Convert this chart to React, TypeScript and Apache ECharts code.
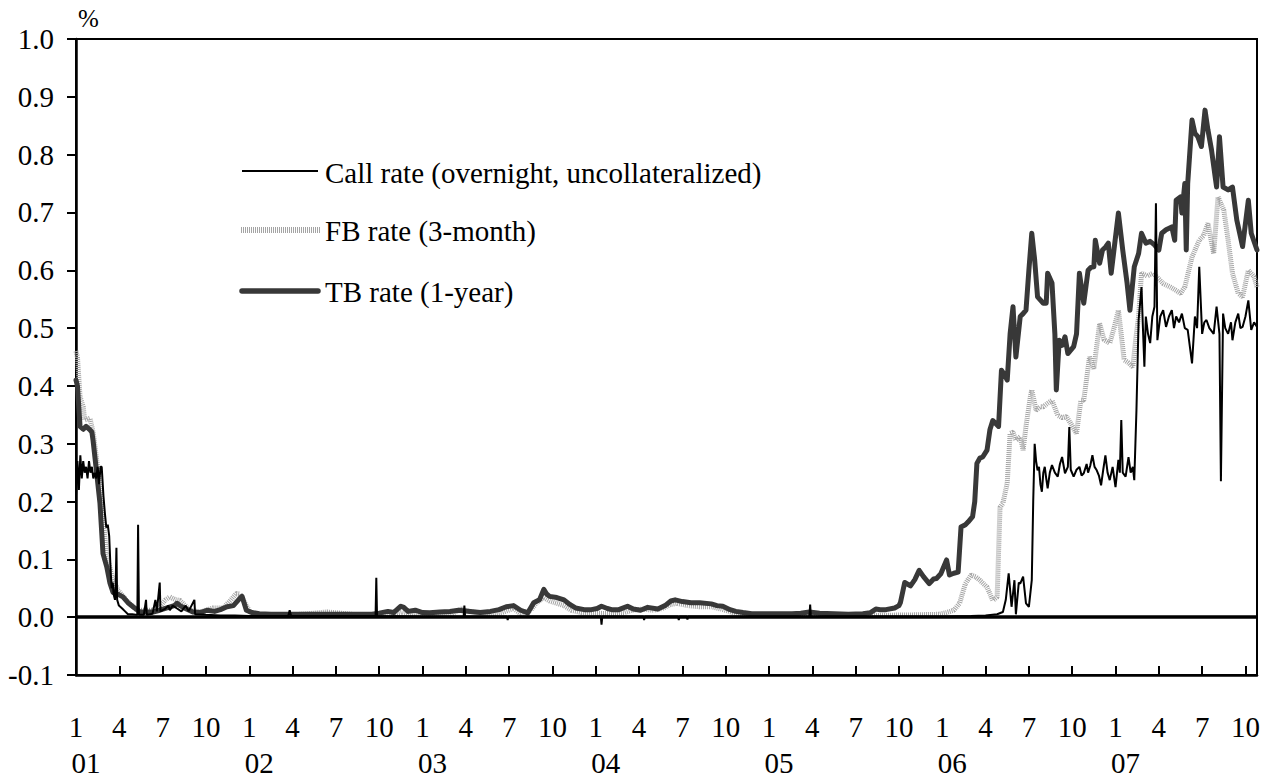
import React, { useEffect, useRef } from "react";
import * as echarts from "echarts";

// x = months since January 2001 (0 = Jan 2001), y = percent
const monthTickLabels: Record<number, string> = { 0: "1", 3: "4", 6: "7", 9: "10" };
const yearLabels = ["01", "02", "03", "04", "05", "06", "07"];

const seriesNames = [
  "Call rate (overnight, uncollateralized)",
  "FB rate (3-month)",
  "TB rate (1-year)",
];

const callRate: [number, number][] = [
  [0.0, 0.21], [0.1, 0.27], [0.2, 0.22], [0.3, 0.28], [0.4, 0.24], [0.5, 0.27], [0.6, 0.25],
  [0.7, 0.26], [0.8, 0.24], [0.9, 0.27], [1.0, 0.25], [1.1, 0.26], [1.2, 0.24], [1.3, 0.25],
  [1.4, 0.24], [1.5, 0.26], [1.6, 0.23], [1.7, 0.26], [1.78, 0.26], [1.9, 0.21], [2.0, 0.18],
  [2.1, 0.155], [2.2, 0.16], [2.3, 0.14], [2.4, 0.08], [2.47, 0.05], [2.55, 0.06], [2.6, 0.04],
  [2.7, 0.03], [2.75, 0.06], [2.8, 0.12], [2.85, 0.03], [2.97, 0.02], [3.2, 0.015], [3.4, 0.01],
  [3.6, 0.005], [3.9, 0.005], [4.25, 0.004], [4.3, 0.16], [4.36, 0.004], [4.7, 0.004],
  [4.85, 0.03], [4.9, 0.004], [5.3, 0.006], [5.5, 0.03], [5.6, 0.01], [5.8, 0.06], [5.85, 0.01],
  [6.2, 0.015], [6.4, 0.02], [6.5, 0.012], [6.7, 0.02], [7.0, 0.015], [7.3, 0.01], [7.6, 0.02],
  [7.8, 0.01], [8.2, 0.03], [8.25, 0.005], [9.0, 0.004], [10.0, 0.003], [11.0, 0.003],
  [12.0, 0.002], [13.0, 0.002], [14.7, 0.002], [14.8, 0.012], [14.9, 0.002], [18.0, 0.002],
  [20.75, 0.002], [20.8, 0.068], [20.85, 0.002], [24.0, 0.001], [26.85, 0.001], [26.9, 0.02],
  [26.95, 0.001], [29.85, 0.001], [29.9, -0.005], [29.95, 0.001], [33.0, 0.001], [36.35, 0.001],
  [36.4, -0.013], [36.45, 0.001], [39.3, 0.001], [39.35, -0.005], [39.4, 0.001], [41.7, 0.001],
  [41.75, -0.005], [41.8, 0.001], [42.3, 0.001], [42.35, -0.004], [42.4, 0.001], [46.0, 0.001],
  [50.8, 0.001], [50.85, 0.022], [50.9, 0.001], [56.0, 0.001], [60.0, 0.001], [62.0, 0.002],
  [63.0, 0.003], [63.8, 0.005], [64.2, 0.009], [64.4, 0.03], [64.6, 0.076], [64.8, 0.018],
  [65.0, 0.064], [65.1, 0.005], [65.3, 0.06], [65.4, 0.058], [65.6, 0.07], [65.8, 0.024],
  [66.0, 0.018], [66.2, 0.064], [66.3, 0.2], [66.4, 0.3], [66.5, 0.27], [66.6, 0.254],
  [66.7, 0.26], [66.8, 0.23], [66.9, 0.217], [67.0, 0.25], [67.1, 0.26], [67.2, 0.24],
  [67.3, 0.223], [67.45, 0.25], [67.6, 0.263], [67.8, 0.25], [68.0, 0.243], [68.15, 0.265],
  [68.3, 0.277], [68.5, 0.249], [68.7, 0.26], [68.8, 0.329], [68.9, 0.255], [69.1, 0.243],
  [69.3, 0.255], [69.5, 0.26], [69.65, 0.245], [69.8, 0.249], [70.0, 0.265], [70.1, 0.25],
  [70.25, 0.262], [70.4, 0.28], [70.55, 0.26], [70.7, 0.254], [70.85, 0.245], [71.0, 0.228],
  [71.15, 0.255], [71.3, 0.28], [71.45, 0.25], [71.6, 0.237], [71.8, 0.26], [72.0, 0.225],
  [72.2, 0.272], [72.3, 0.25], [72.4, 0.341], [72.5, 0.25], [72.7, 0.243], [72.9, 0.277],
  [73.05, 0.25], [73.2, 0.26], [73.3, 0.237], [73.45, 0.358], [73.6, 0.514], [73.8, 0.571],
  [73.9, 0.5], [74.0, 0.433], [74.1, 0.52], [74.25, 0.49], [74.4, 0.474], [74.55, 0.52],
  [74.7, 0.537], [74.8, 0.716], [74.9, 0.479], [75.1, 0.52], [75.3, 0.531], [75.5, 0.502],
  [75.7, 0.52], [75.9, 0.531], [76.05, 0.5], [76.2, 0.52], [76.4, 0.51], [76.6, 0.525],
  [76.8, 0.5], [77.0, 0.497], [77.3, 0.439], [77.5, 0.52], [77.65, 0.5], [77.8, 0.606],
  [78.0, 0.49], [78.15, 0.51], [78.3, 0.514], [78.5, 0.5], [78.8, 0.49], [79.0, 0.537],
  [79.2, 0.49], [79.3, 0.235], [79.45, 0.525], [79.6, 0.5], [79.8, 0.49], [80.0, 0.51],
  [80.1, 0.479], [80.3, 0.51], [80.5, 0.525], [80.65, 0.5], [80.8, 0.502], [81.0, 0.52],
  [81.2, 0.548], [81.4, 0.497], [81.6, 0.51], [81.8, 0.502],
];

const fbRate: [number, number][] = [
  [0.0, 0.46], [0.1, 0.45], [0.28, 0.381], [0.5, 0.364], [0.6, 0.341], [0.97, 0.344],
  [1.2, 0.318], [1.55, 0.249], [1.9, 0.168], [2.1, 0.11], [2.5, 0.07], [2.9, 0.047],
  [3.5, 0.029], [4.2, 0.012], [5.3, 0.012], [5.8, 0.018], [6.2, 0.03], [6.5, 0.035],
  [6.9, 0.03], [7.2, 0.029], [7.9, 0.012], [8.6, 0.009], [9.5, 0.016], [10.2, 0.016],
  [10.7, 0.029], [11.1, 0.041], [11.35, 0.04], [11.6, 0.029], [12.05, 0.009], [12.5, 0.004],
  [14.0, 0.003], [15.5, 0.005], [16.5, 0.007], [17.4, 0.009], [18.3, 0.007], [19.5, 0.004],
  [21.0, 0.003], [22.0, 0.006], [22.6, 0.009], [23.5, 0.005], [25.0, 0.004], [26.0, 0.006],
  [26.7, 0.014], [27.3, 0.01], [28.5, 0.005], [29.5, 0.008], [30.3, 0.015], [30.8, 0.006],
  [31.5, 0.012], [31.9, 0.025], [32.4, 0.034], [32.8, 0.028], [33.3, 0.024], [33.8, 0.02],
  [34.3, 0.012], [35.0, 0.008], [36.0, 0.007], [37.0, 0.006], [38.0, 0.008], [38.5, 0.012],
  [39.2, 0.014], [40.0, 0.012], [40.6, 0.015], [41.2, 0.022], [41.6, 0.024], [42.4, 0.02],
  [43.2, 0.018], [44.0, 0.018], [44.7, 0.014], [45.5, 0.008], [46.5, 0.004], [48.0, 0.003],
  [50.0, 0.003], [52.0, 0.003], [55.0, 0.003], [58.0, 0.004], [59.8, 0.005], [60.3, 0.008],
  [60.8, 0.012], [61.2, 0.024], [61.6, 0.058], [62.0, 0.073], [62.3, 0.07], [62.6, 0.064],
  [63.1, 0.052], [63.5, 0.029], [63.8, 0.035], [64.0, 0.19], [64.2, 0.197], [64.5, 0.232],
  [64.7, 0.318], [64.9, 0.32], [65.1, 0.306], [65.4, 0.312], [65.6, 0.289], [65.8, 0.33],
  [66.1, 0.381], [66.2, 0.393], [66.5, 0.358], [66.8, 0.364], [67.0, 0.364], [67.3, 0.37],
  [67.6, 0.375], [68.0, 0.349], [68.3, 0.345], [68.6, 0.347], [68.9, 0.335], [69.3, 0.318],
  [69.6, 0.375], [69.8, 0.375], [70.2, 0.45], [70.5, 0.43], [70.9, 0.508], [71.2, 0.48],
  [71.6, 0.474], [71.9, 0.5], [72.2, 0.531], [72.6, 0.445], [72.9, 0.44], [73.2, 0.433],
  [73.4, 0.48], [73.6, 0.52], [73.8, 0.595], [74.2, 0.59], [74.6, 0.595], [75.0, 0.585],
  [75.3, 0.577], [75.8, 0.571], [76.2, 0.565], [76.5, 0.56], [76.8, 0.571], [77.3, 0.623],
  [77.8, 0.652], [78.1, 0.66], [78.4, 0.681], [78.8, 0.629], [79.1, 0.727], [79.5, 0.704],
  [79.8, 0.652], [80.1, 0.595], [80.5, 0.56], [80.8, 0.554], [81.2, 0.6], [81.6, 0.589],
  [81.8, 0.571],
];

const tbRate: [number, number][] = [
  [0.0, 0.41], [0.1, 0.4], [0.28, 0.33], [0.5, 0.325], [0.7, 0.33], [0.97, 0.324], [1.1, 0.32],
  [1.18, 0.306], [1.43, 0.25], [1.66, 0.197], [1.87, 0.11], [2.13, 0.087], [2.35, 0.059],
  [2.56, 0.043], [2.9, 0.04], [3.25, 0.035], [3.6, 0.025], [3.95, 0.018], [4.43, 0.009],
  [5.33, 0.009], [5.8, 0.012], [6.3, 0.016], [6.8, 0.02], [7.0, 0.024], [7.2, 0.02],
  [7.5, 0.016], [8.1, 0.009], [8.6, 0.008], [9.07, 0.012], [9.6, 0.01], [10.0, 0.013],
  [10.46, 0.018], [10.9, 0.02], [11.36, 0.033], [11.5, 0.036], [11.8, 0.012], [12.2, 0.008],
  [12.7, 0.006], [13.5, 0.005], [15.0, 0.005], [17.0, 0.005], [19.0, 0.005], [20.5, 0.005],
  [21.0, 0.007], [21.6, 0.01], [22.0, 0.008], [22.5, 0.019], [22.7, 0.017], [23.0, 0.01],
  [23.5, 0.012], [24.0, 0.008], [24.5, 0.0075], [25.2, 0.009], [25.9, 0.01], [26.5, 0.012],
  [27.3, 0.01], [28.0, 0.008], [28.7, 0.01], [29.3, 0.013], [29.8, 0.018], [30.3, 0.02],
  [30.8, 0.012], [31.3, 0.0075], [31.7, 0.025], [32.1, 0.03], [32.4, 0.048], [32.6, 0.04],
  [32.8, 0.036], [33.3, 0.034], [33.8, 0.03], [34.2, 0.022], [34.6, 0.016], [35.2, 0.013],
  [35.7, 0.013], [36.1, 0.015], [36.4, 0.019], [36.8, 0.015], [37.1, 0.013], [37.6, 0.013],
  [38.2, 0.019], [38.6, 0.014], [39.1, 0.012], [39.6, 0.017], [40.3, 0.014], [40.8, 0.02],
  [41.2, 0.028], [41.5, 0.03], [42.0, 0.027], [42.6, 0.025], [43.2, 0.025], [44.0, 0.023],
  [44.4, 0.02], [44.8, 0.019], [45.3, 0.013], [45.7, 0.01], [46.2, 0.008], [46.8, 0.006],
  [48.0, 0.006], [49.6, 0.006], [50.2, 0.007], [50.8, 0.009], [51.5, 0.007], [52.5, 0.006],
  [53.5, 0.005], [54.5, 0.006], [55.0, 0.0075], [55.4, 0.014], [55.7, 0.013], [56.1, 0.013],
  [56.7, 0.016], [57.0, 0.02], [57.1, 0.025], [57.4, 0.06], [57.8, 0.054], [58.1, 0.065],
  [58.4, 0.081], [58.7, 0.07], [59.1, 0.058], [59.4, 0.066], [59.6, 0.067], [59.9, 0.075],
  [60.3, 0.099], [60.5, 0.073], [60.8, 0.076], [61.1, 0.078], [61.3, 0.156], [61.6, 0.16],
  [61.8, 0.165], [62.1, 0.174], [62.25, 0.2], [62.4, 0.266], [62.6, 0.275], [62.8, 0.277],
  [63.1, 0.289], [63.3, 0.324], [63.5, 0.34], [63.7, 0.335], [63.9, 0.33], [64.1, 0.427],
  [64.3, 0.42], [64.5, 0.41], [64.7, 0.49], [64.9, 0.537], [65.1, 0.45], [65.4, 0.52],
  [65.6, 0.525], [65.8, 0.531], [66.0, 0.6], [66.2, 0.664], [66.4, 0.618], [66.6, 0.554],
  [67.0, 0.543], [67.2, 0.543], [67.3, 0.595], [67.6, 0.578], [67.8, 0.49], [67.9, 0.393],
  [68.1, 0.479], [68.3, 0.47], [68.5, 0.485], [68.7, 0.456], [69.1, 0.468], [69.3, 0.49],
  [69.5, 0.595], [69.8, 0.543], [70.1, 0.6], [70.3, 0.605], [70.5, 0.606], [70.6, 0.652],
  [70.9, 0.612], [71.1, 0.635], [71.3, 0.64], [71.5, 0.647], [71.7, 0.595], [72.2, 0.699],
  [72.5, 0.635], [72.8, 0.578], [73.0, 0.531], [73.3, 0.606], [73.6, 0.629], [73.8, 0.664],
  [74.1, 0.647], [74.4, 0.65], [74.7, 0.644], [75.0, 0.635], [75.2, 0.664], [75.5, 0.67],
  [75.9, 0.675], [76.1, 0.652], [76.2, 0.721], [76.5, 0.727], [76.6, 0.699], [76.8, 0.75],
  [76.9, 0.635], [77.0, 0.75], [77.3, 0.86], [77.5, 0.837], [77.7, 0.831], [77.95, 0.814],
  [78.2, 0.877], [78.4, 0.843], [78.65, 0.808], [78.9, 0.762], [79.0, 0.744], [79.2, 0.831],
  [79.45, 0.744], [79.8, 0.739], [80.1, 0.744], [80.4, 0.687], [80.8, 0.641], [81.2, 0.721],
  [81.4, 0.664], [81.8, 0.635],
];

const FONT = "'Liberation Serif', 'Times New Roman', serif";
const FS = 29;

export default function App() {
  const ref = useRef<HTMLDivElement>(null);

  useEffect(() => {
    if (!ref.current) return;
    const chart = echarts.init(ref.current, null, { renderer: "svg" });
    const xMax = 81.8;
    const option: any = {
      animation: false,
      backgroundColor: "#fff",
      grid: {
        left: 76,
        right: 12,
        top: 39,
        bottom: 103,
        show: true,
        borderColor: "#000",
        borderWidth: 2,
        backgroundColor: "transparent",
      },
      xAxis: [
        {
          type: "value",
          min: 0,
          max: xMax,
          interval: 3,
          position: "bottom",
          axisLine: { show: true, onZero: false, lineStyle: { color: "#000", width: 2.5 } },
          axisTick: { show: true, inside: true, length: 9, lineStyle: { color: "#000", width: 2 } },
          splitLine: { show: false },
          axisLabel: {
            color: "#000",
            fontFamily: FONT,
            fontSize: FS,
            margin: 37,
            showMaxLabel: true,
            showMinLabel: true,
            formatter: (v: number) => {
              const r = Math.round(v);
              if (Math.abs(v - r) > 1e-6) return "";
              const lbl = monthTickLabels[((r % 12) + 12) % 12];
              return lbl ?? "";
            },
          },
        },
        {
          type: "value",
          min: 0,
          max: xMax,
          interval: 12,
          position: "bottom",
          axisLine: { show: false, onZero: false },
          axisTick: { show: false },
          splitLine: { show: false },
          axisLabel: {
            color: "#000",
            fontFamily: FONT,
            fontSize: FS,
            margin: 73,
            padding: [0, 0, 0, 20],
            formatter: (v: number) => {
              const r = Math.round(v);
              if (Math.abs(v - r) > 1e-6 || r % 12 !== 0) return "";
              return yearLabels[r / 12] ?? "";
            },
          },
        },
      ],
      yAxis: {
        type: "value",
        min: -0.1,
        max: 1.0,
        interval: 0.1,
        axisLine: { show: true, onZero: false, lineStyle: { color: "#000", width: 2.5 } },
        axisTick: { show: true, inside: false, length: 9, lineStyle: { color: "#000", width: 2 } },
        splitLine: { show: false },
        axisLabel: {
          color: "#000",
          fontFamily: FONT,
          fontSize: FS,
          margin: 22,
          formatter: (v: number) => (Math.round(v * 10) / 10).toFixed(1),
        },
      },
      series: [
        {
          name: seriesNames[1],
          type: "line",
          data: fbRate,
          symbol: "none",
          showSymbol: false,
          z: 2,
          lineStyle: { color: "#a4a4a4", width: 5, type: [1, 1] },
        },
        {
          name: seriesNames[2],
          type: "line",
          data: tbRate,
          symbol: "none",
          showSymbol: false,
          z: 3,
          lineStyle: { color: "#383838", width: 5, cap: "round", join: "round" },
        },
        {
          name: seriesNames[0],
          type: "line",
          data: callRate,
          symbol: "none",
          showSymbol: false,
          z: 4,
          lineStyle: { color: "#000", width: 2 },
          markLine: {
            silent: true,
            symbol: ["none", "none"],
            label: { show: false },
            lineStyle: { color: "#000", width: 3.5, type: "solid" },
            data: [{ yAxis: 0 }],
          },
        },
      ],
      graphic: [
        {
          type: "text",
          left: 78,
          top: 6,
          style: { text: "%", fontFamily: FONT, fontSize: 25, fill: "#000" },
        },
        {
          type: "line",
          shape: { x1: 242, y1: 171, x2: 318, y2: 171 },
          style: { stroke: "#000", lineWidth: 2 },
        },
        {
          type: "text",
          x: 325,
          y: 173,
          style: {
            text: seriesNames[0],
            fontFamily: FONT,
            fontSize: FS,
            fill: "#000",
            verticalAlign: "middle",
            align: "left",
          },
        },
        {
          type: "line",
          shape: { x1: 241, y1: 230, x2: 320, y2: 230 },
          style: { stroke: "#a4a4a4", lineWidth: 6, lineDash: [1, 1] },
        },
        {
          type: "text",
          x: 325,
          y: 231,
          style: {
            text: seriesNames[1],
            fontFamily: FONT,
            fontSize: FS,
            fill: "#000",
            verticalAlign: "middle",
            align: "left",
          },
        },
        {
          type: "line",
          shape: { x1: 242, y1: 291, x2: 318, y2: 291 },
          style: { stroke: "#383838", lineWidth: 5.5, lineCap: "round" },
        },
        {
          type: "text",
          x: 325,
          y: 292,
          style: {
            text: seriesNames[2],
            fontFamily: FONT,
            fontSize: FS,
            fill: "#000",
            verticalAlign: "middle",
            align: "left",
          },
        },
      ],
    };
    chart.setOption(option);
    return () => chart.dispose();
  }, []);

  return (
    <div
      ref={ref}
      style={{ position: "fixed", left: 0, top: 0, width: 1269, height: 778, background: "#fff" }}
    />
  );
}
